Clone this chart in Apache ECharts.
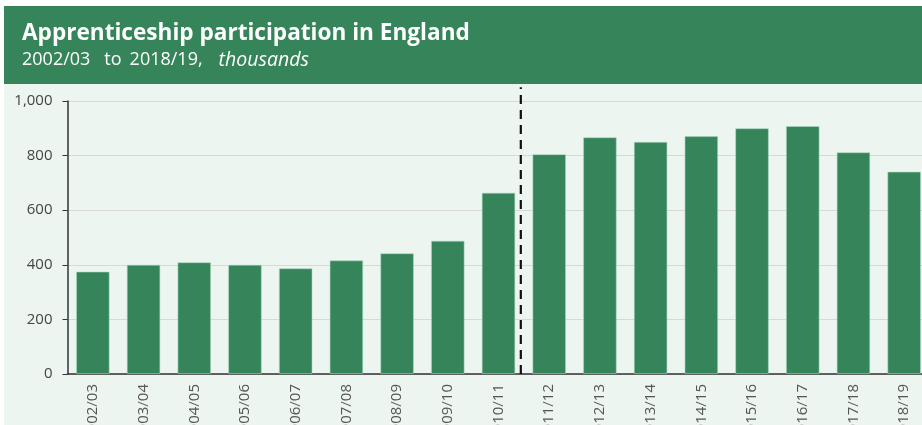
<!DOCTYPE html>
<html>
<head>
<meta charset="utf-8">
<script src="https://cdn.jsdelivr.net/npm/echarts@6/dist/echarts.min.js"></script>
<style>
html,body{margin:0;padding:0;background:#ffffff;}
#chart{width:922px;height:425px;}
</style>
</head>
<body>
<div id="chart"></div>
<script>
const categories = ['2002/03','2003/04','2004/05','2005/06','2006/07','2007/08','2008/09','2009/10','2010/11','2011/12','2012/13','2013/14','2014/15','2015/16','2016/17','2017/18','2018/19'];
const participation = [375, 400, 409, 400, 387, 416, 442, 488, 664, 805, 867, 850, 871, 900, 908, 812, 741];
const yTicks = [0, 200, 400, 600, 800, 1000];
const dividerPosition = 8.94; // between 2010/11 and 2011/12 (methodology change)
const dividerExtent = [0, 1050];

const chart = echarts.init(document.getElementById('chart'), null, {renderer:'canvas'});
const subBase = {color:'#ffffff', fontFamily:'Open Sans', fontSize:18};
const option = {
  animation: false,
  backgroundColor: '#ffffff',
  graphic: [
    {type:'rect', shape:{x:4, y:84, width:918, height:341}, style:{fill:'#ecf5f0'}, z:-10, silent:true},
    {type:'rect', shape:{x:4, y:6, width:918, height:78}, style:{fill:'#36855a'}, z:-10, silent:true}
  ],
  title: {
    text: 'Apprenticeship participation in England',
    subtext: '{n|2002/03}{a| }{n|to}{b| }{n|2018/19,}{c| }{i|thousands}',
    left: 17, top: 17, itemGap: 5,
    textStyle: {color:'#ffffff', fontFamily:'Open Sans', fontWeight:'bold', fontSize:22.6},
    subtextStyle: Object.assign({}, subBase, {
      rich: {
        n: Object.assign({}, subBase),
        a: Object.assign({}, subBase, {width:14}),
        b: Object.assign({}, subBase, {width:8}),
        c: Object.assign({}, subBase, {width:16}),
        i: Object.assign({}, subBase, {fontStyle:'italic', fontSize:19.5})
      }
    })
  },
  grid: {left:67.5, top:101, width:862, height:273, containLabel:false, outerBoundsMode:'none'},
  xAxis: [
    {
      type:'category', data:categories,
      axisLine:{show:true, lineStyle:{color:'#333333', width:1.5}},
      axisTick:{show:false},
      axisLabel:{rotate:90, fontFamily:'Open Sans', fontSize:15, color:'#555555', margin:10, interval:0},
      splitLine:{show:false}
    },
    {
      type:'value', min:0, max:categories.length, show:false, position:'bottom'
    }
  ],
  yAxis: {
    type:'value', min:0, max:1000, interval:200,
    axisLine:{show:true, lineStyle:{color:'#333333', width:1.5}},
    axisTick:{show:true, length:5, lineStyle:{color:'#333333'}},
    axisLabel:{fontFamily:'Open Sans', fontSize:15, color:'#444444', margin:15,
      formatter: v => yTicks.includes(v) ? v.toLocaleString('en-GB') : ''},
    splitLine:{show:true, lineStyle:{color:'#d8d8d8', width:1}}
  },
  series: [
    {
      type:'bar', data:participation, xAxisIndex:0,
      barCategoryGap:'34%',
      itemStyle:{color:'#36855a', borderColor:'rgba(170,215,190,0.7)', borderWidth:0.8},
      z:2
    },
    {
      type:'line', xAxisIndex:1, clip:false,
      data: dividerExtent.map(v => [dividerPosition, v]),
      symbol:'none',
      lineStyle:{color:'#111111', width:2.2, type:[9,6]},
      z:5
    }
  ]
};
chart.setOption(option);
</script>
</body>
</html>
